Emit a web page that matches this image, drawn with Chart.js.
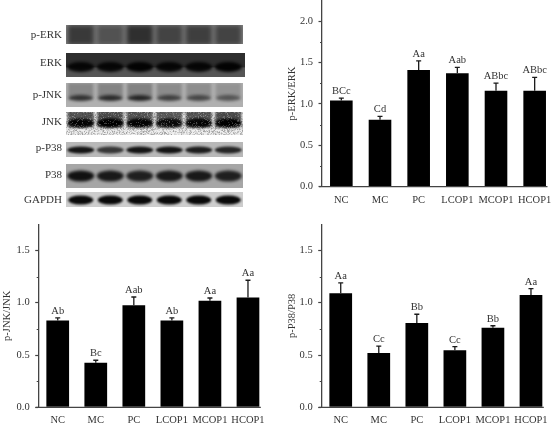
<!DOCTYPE html>
<html><head><meta charset="utf-8">
<script src="https://cdn.jsdelivr.net/npm/chart.js@4/dist/chart.umd.min.js"></script>
<style>
html,body{margin:0;padding:0;background:#fff;width:554px;height:424px;overflow:hidden}
canvas{position:absolute;display:block}
</style></head><body>
<canvas id="blot" width="270" height="215" style="left:0;top:0"></canvas>
<canvas id="erk" width="274" height="215" style="left:280px;top:0"></canvas>
<canvas id="jnk" width="267" height="209" style="left:0;top:215px"></canvas>
<canvas id="p38" width="270" height="209" style="left:280px;top:215px"></canvas>
<script>
const categories = ['NC','MC','PC','LCOP1','MCOP1','HCOP1'];

const erkValues = [1.04,0.81,1.41,1.37,1.16,1.16];
const erkErrTop = [1.07,0.85,1.52,1.44,1.25,1.32];
const erkLetters = ['BCc','Cd','Aa','Aab','ABbc','ABbc'];

const jnkValues = [0.83,0.425,0.975,0.83,1.02,1.05];
const jnkErrTop = [0.855,0.45,1.055,0.855,1.045,1.215];
const jnkLetters = ['Ab','Bc','Aab','Ab','Aa','Aa'];

const p38Values = [1.09,0.52,0.805,0.545,0.76,1.075];
const p38ErrTop = [1.19,0.585,0.89,0.58,0.78,1.135];
const p38Letters = ['Aa','Cc','Bb','Cc','Bb','Aa'];

const blotNames = ['p-ERK','ERK','p-JNK','JNK','p-P38','P38','GAPDH'];
const blotStrength = [
  [0.85,0.60,0.95,0.75,0.80,0.75],
  [0.95,0.95,1.00,0.95,0.95,1.00],
  [0.85,0.90,0.95,0.75,0.70,0.60],
  [0.95,1.00,0.95,0.90,0.95,1.00],
  [0.95,0.75,0.95,0.95,0.90,0.85],
  [1.00,0.95,0.90,0.95,0.95,0.90],
  [1.00,1.00,1.00,1.00,1.00,1.00]
];

const FONT = '"Liberation Serif", serif';
const TXT = '#333';
const AXIS = '#444';

const stripStyle = [
  {t:25, b:44, c:35,  bg:'#8e8e8e', h:21, w:27, col:'#2a2a2a', blur:2.5, rect:true},
  {t:53, b:77, c:67,  bg:'#555555', h:10, w:27, col:'#030303', blur:1.5, top:'#2e2e2e', r:245},
  {t:83, b:107,c:98,  bg:'#b0b0b0', h:6,  w:25, col:'#1c1c1c', blur:1.5, smear:{c:90,h:14,col:'#777'}},
  {t:112,b:135,c:123, bg:'#f0f0f0', h:9,  w:26, col:'#000',    blur:1,   smear:{c:119,h:17,col:'#333'}, noise:true},
  {t:142,b:157,c:150, bg:'#b8b8b8', h:7,  w:27, col:'#0c0c0c', blur:1},
  {t:164,b:188,c:176, bg:'#a6a6a6', h:11, w:27, col:'#111',    blur:1.5},
  {t:192,b:207,c:200, bg:'#cdcdcd', h:9,  w:25, col:'#0a0a0a', blur:1}
];
const labelY = [35,63,95,122,148,175,200];

function hash(a,b){const s=Math.sin(a*12.9898+b*78.233)*43758.5453;return s-Math.floor(s);}
function noPadding(a){a.paddingTop=0;a.paddingBottom=0;a.paddingLeft=0;a.paddingRight=0;}

const blotPlugin = {
  id:'blotPlugin',
  afterDatasetsDraw(chart){
    const ctx=chart.ctx, x=chart.scales.x, y=chart.scales.y;
    const L=x.left, R=x.right;
    stripStyle.forEach((s,ri)=>{
      const top=y.getPixelForValue(s.t), bot=y.getPixelForValue(s.b), right=s.r||R;
      ctx.save();
      ctx.beginPath();ctx.rect(L,top,right-L,bot-top);ctx.clip();
      ctx.fillStyle=s.bg;ctx.fillRect(L,top,right-L,bot-top);
      if(s.top){ctx.fillStyle=s.top;ctx.fillRect(L,top,right-L,(bot-top)*0.6);}
      if(s.noise){
        for(let px=Math.floor(L);px<right;px+=1)for(let py=Math.floor(top);py<bot;py+=1){
          const n=hash(px,py);
          ctx.fillStyle='rgba(0,0,0,'+(n*n*0.35).toFixed(3)+')';
          ctx.fillRect(px,py,1,1);
        }
      }
      blotStrength[ri].forEach((v,i)=>{
        const cx=x.getPixelForValue(i);
        ctx.filter='blur('+s.blur+'px)';
        if(s.smear){
          ctx.globalAlpha=0.85*v;
          ctx.fillStyle=s.smear.col;
          ctx.fillRect(cx-s.w/2,y.getPixelForValue(s.smear.c-s.smear.h/2),s.w,s.smear.h);
        }
        ctx.globalAlpha=v;
        ctx.fillStyle=s.col;
        if(s.rect){
          ctx.fillRect(cx-s.w/2,y.getPixelForValue(s.c-s.h/2),s.w,s.h);
        }else{
          ctx.beginPath();
          ctx.ellipse(cx,y.getPixelForValue(s.c),s.w/2,s.h/2,0,0,Math.PI*2);
          ctx.fill();
        }
      });
      if(s.noise){
        ctx.filter='none';ctx.globalAlpha=1;
        for(let px=Math.floor(L);px<right;px+=1)for(let py=Math.floor(top);py<bot;py+=1){
          const n=hash(py+3,px+7);
          if(n>0.75){ctx.fillStyle='rgba(255,255,255,'+((n-0.75)*1.3).toFixed(3)+')';ctx.fillRect(px,py,1,1);}
        }
      }
      ctx.restore();
    });
  }
};

new Chart(document.getElementById('blot'),{
  type:'bar',
  data:{labels:categories,datasets:[{data:[],backgroundColor:'#000'}]},
  plugins:[blotPlugin],
  options:{
    responsive:false,animation:false,
    layout:{padding:{left:0,right:27,top:0,bottom:0}},
    plugins:{legend:{display:false},tooltip:{enabled:false}},
    scales:{
      x:{display:false},
      y:{
        reverse:true,min:0,max:215,
        afterFit(a){a.width=66;noPadding(a);},
        afterBuildTicks(a){a.ticks=labelY.map(v=>({value:v}));},
        grid:{display:false,drawTicks:false},border:{display:false},
        ticks:{
          autoSkip:false,padding:4,color:TXT,font:{family:FONT,size:11},
          callback:(v)=>blotNames[labelY.indexOf(v)]
        }
      }
    }
  }
});

const barPlugin = {
  id:'barPlugin',
  afterDatasetsDraw(chart,args,opts){
    const ctx=chart.ctx,x=chart.scales.x,y=chart.scales.y;
    const meta=chart.getDatasetMeta(0);
    ctx.save();
    ctx.strokeStyle=AXIS;ctx.lineWidth=1;
    for(let v=opts.minorStep;v<y.max;v+=2*opts.minorStep){
      const p=Math.round(y.getPixelForValue(v))+0.5;
      ctx.beginPath();ctx.moveTo(x.left-2,p);ctx.lineTo(x.left,p);ctx.stroke();
    }
    const last=meta.data[meta.data.length-1];
    const y0=y.getPixelForValue(0);
    ctx.lineWidth=1.3;
    ctx.beginPath();ctx.moveTo(x.left-3,y0);ctx.lineTo(last.x+last.width/2+1.5,y0);ctx.stroke();
    opts.errTop.forEach((e,i)=>{
      const cx=x.getPixelForValue(i),t=y.getPixelForValue(e),b=y.getPixelForValue(opts.values[i]);
      ctx.strokeStyle='#1a1a1a';ctx.lineWidth=1.3;
      ctx.beginPath();ctx.moveTo(cx,b);ctx.lineTo(cx,t);
      ctx.moveTo(cx-2.5,t);ctx.lineTo(cx+2.5,t);ctx.stroke();
      ctx.fillStyle=TXT;ctx.font='10.5px '+FONT;ctx.textAlign='center';ctx.textBaseline='alphabetic';
      ctx.fillText(opts.letters[i],cx,t-4);
    });
    ctx.restore();
  }
};

function barChart(id,yAxisW,xAxisH,title,values,errTop,letters,yMax,barFrac,topPad){
  new Chart(document.getElementById(id),{
    type:'bar',
    data:{labels:categories,datasets:[{data:values,backgroundColor:'#000',borderWidth:0,
      barPercentage:1,categoryPercentage:barFrac}]},
    plugins:[barPlugin],
    options:{
      responsive:false,animation:false,
      layout:{padding:{left:0,right:0,top:topPad,bottom:0}},
      plugins:{legend:{display:false},tooltip:{enabled:false},
        barPlugin:{errTop,letters,values,minorStep:0.25}},
      scales:{
        x:{
          afterFit(a){a.height=xAxisH;noPadding(a);},
          grid:{display:false,drawTicks:false},border:{display:false},
          ticks:{color:TXT,font:{family:FONT,size:10.5},padding:7,maxRotation:0,autoSkip:false}
        },
        y:{
          min:0,max:yMax,
          afterFit(a){a.width=yAxisW;noPadding(a);},
          afterBuildTicks(a){const t=[];for(let v=0;v<=yMax+1e-9;v+=0.5)t.push({value:v});a.ticks=t;},
          grid:{display:true,drawOnChartArea:false,drawTicks:true,tickLength:3.5,tickColor:AXIS,tickWidth:1.2},
          border:{display:true,color:AXIS,width:1.3},
          title:{display:true,text:title,color:TXT,font:{family:FONT,size:10.5},
            padding:{top:id==='jnk'?1:5.5,bottom:0}},
          ticks:{color:TXT,font:{family:FONT,size:10.5},padding:5.5,
            callback:(v)=>Number(v).toFixed(1)}
        }
      }
    }
  });
}

barChart('erk',42,28.3,'p-ERK/ERK',erkValues,erkErrTop,erkLetters,2.25,0.585,0.4);
barChart('jnk',38.7,16.7,'p-JNK/JNK',jnkValues,jnkErrTop,jnkLetters,1.75,0.597,9.3);
barChart('p38',41.7,16.7,'p-P38/P38',p38Values,p38ErrTop,p38Letters,1.75,0.597,9.3);
</script>
</body></html>
